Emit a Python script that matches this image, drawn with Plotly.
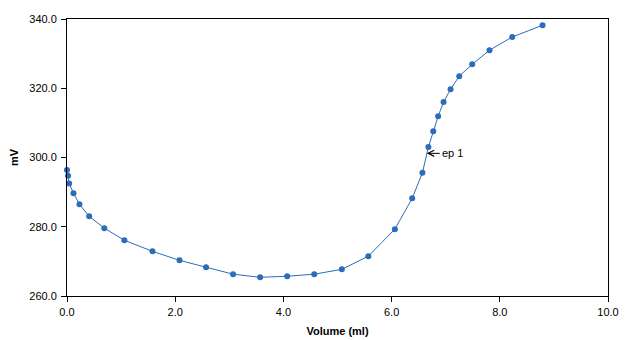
import plotly.graph_objects as go

# Titration curve: added volume (ml) vs. electrode potential (mV)
volume_ml = [0.00, 0.02, 0.04, 0.12, 0.23, 0.41, 0.69, 1.06, 1.58, 2.08, 2.57,
             3.07, 3.57, 4.07, 4.57, 5.08, 5.57, 6.06, 6.38, 6.57, 6.68, 6.77,
             6.86, 6.96, 7.09, 7.25, 7.49, 7.81, 8.23, 8.79]
potential_mv = [296.4, 294.7, 292.5, 289.7, 286.5, 283.0, 279.6, 276.1, 272.9,
                270.3, 268.3, 266.3, 265.4, 265.7, 266.3, 267.7, 271.5, 279.3,
                288.2, 295.6, 303.0, 307.6, 311.9, 316.0, 319.7, 323.5, 326.9,
                331.0, 334.8, 338.2]

# Endpoint marker
ep_label = "ep 1"
ep_volume = 6.65
ep_potential = 301.2

x_ticks = [0, 2, 4, 6, 8, 10]
y_ticks = [260, 280, 300, 320, 340]

FONT = "Liberation Sans, Arial, sans-serif"
BLUE = "#2B6DBA"

fig = go.Figure()
fig.add_trace(go.Scatter(
    x=volume_ml, y=potential_mv, mode="lines+markers",
    line=dict(color=BLUE, width=1),
    marker=dict(color=BLUE, size=6),
    cliponaxis=False,
    showlegend=False, hoverinfo="x+y",
))

fig.add_annotation(
    x=ep_volume, y=ep_potential, text=ep_label,
    showarrow=True, arrowhead=5, arrowsize=1.2, arrowwidth=1, arrowcolor="black",
    ax=13, ay=0, xanchor="left", yanchor="middle",
    font=dict(family=FONT, size=11, color="black"),
)

axis_common = dict(
    showgrid=False, zeroline=False, showline=True, linecolor="black", linewidth=1,
    mirror=True, ticks="outside", ticklen=5, tickcolor="black", tickwidth=1,
    tickfont=dict(family=FONT, size=11, color="black"), automargin=False,
)

fig.update_xaxes(
    range=[0, 10], tickvals=x_ticks, ticktext=[f"{v:.1f}" for v in x_ticks],
    ticklabelstandoff=1,
    title=dict(text="<b>Volume (ml)</b>", font=dict(family=FONT, size=11, color="black"), standoff=10),
    **axis_common,
)
fig.update_yaxes(
    range=[260, 340], tickvals=y_ticks, ticktext=[f"{v:.1f}" for v in y_ticks],
    ticklabelstandoff=2,
    title=dict(text="<b>mV</b>", font=dict(family=FONT, size=11, color="black"), standoff=8),
    **axis_common,
)

fig.update_layout(
    width=635, height=340,
    margin=dict(l=67, r=27, t=19, b=44),
    paper_bgcolor="white", plot_bgcolor="white",
    font=dict(family=FONT, size=11, color="black"),
)

fig.write_html("out.html")
